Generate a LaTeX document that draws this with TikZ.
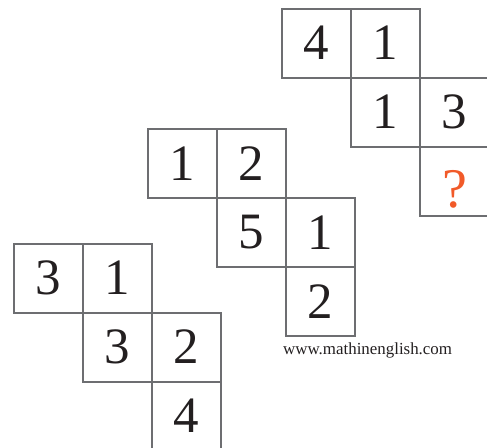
\documentclass[tikz,border=0pt]{standalone}
\usepackage{fontspec}
\setmainfont{Liberation Serif}
\definecolor{gridgray}{HTML}{6D6E71}
\definecolor{digit}{HTML}{231F20}
\definecolor{qorange}{HTML}{F15A29}
\begin{document}
\begin{tikzpicture}[x=1pt,y=-1pt,
  cellbox/.style={draw=gridgray,line width=2pt,minimum width=69pt,minimum height=69pt,
    inner sep=0pt,outer sep=0pt,text=digit,font=\fontsize{51}{54}\selectfont},
  qmark/.style={text=qorange},
  webtext/.style={font=\fontsize{16.9}{20}\selectfont,text=digit,inner sep=0pt,anchor=base west}]
\useasboundingbox (0,0) rectangle (487,447);
% top group
\begin{scope}[shift={(282,8.5)}]
  \node[cellbox] (a1) at (34.5,34.5) {4};
  \node[cellbox] (a2) at (103.5,34.5) {1};
  \node[cellbox] (a3) at (103.5,103.5) {1};
  \node[cellbox] (a4) at (172.5,103.5) {3};
  \node[cellbox] (a5) at (172.5,172.5) {};
  \node[text=qorange,font=\fontsize{56}{60}\selectfont,inner sep=0pt] (q) at (172.5,181) {?};
\end{scope}
% middle group
\begin{scope}[shift={(147.5,129)}]
  \node[cellbox] (b1) at (34.5,34.5) {1};
  \node[cellbox] (b2) at (103.5,34.5) {2};
  \node[cellbox] (b3) at (103.5,103.5) {5};
  \node[cellbox] (b4) at (172.5,103.5) {1};
  \node[cellbox] (b5) at (172.5,172.5) {2};
\end{scope}
% bottom group
\begin{scope}[shift={(14,243.5)}]
  \node[cellbox] (c1) at (34.5,34.5) {3};
  \node[cellbox] (c2) at (103.5,34.5) {1};
  \node[cellbox] (c3) at (103.5,103.5) {3};
  \node[cellbox] (c4) at (172.5,103.5) {2};
  \node[cellbox] (c5) at (172.5,172.5) {4};
\end{scope}
\node[webtext] (web) at (283,354) {www.mathinenglish.com};
\end{tikzpicture}
\end{document}
